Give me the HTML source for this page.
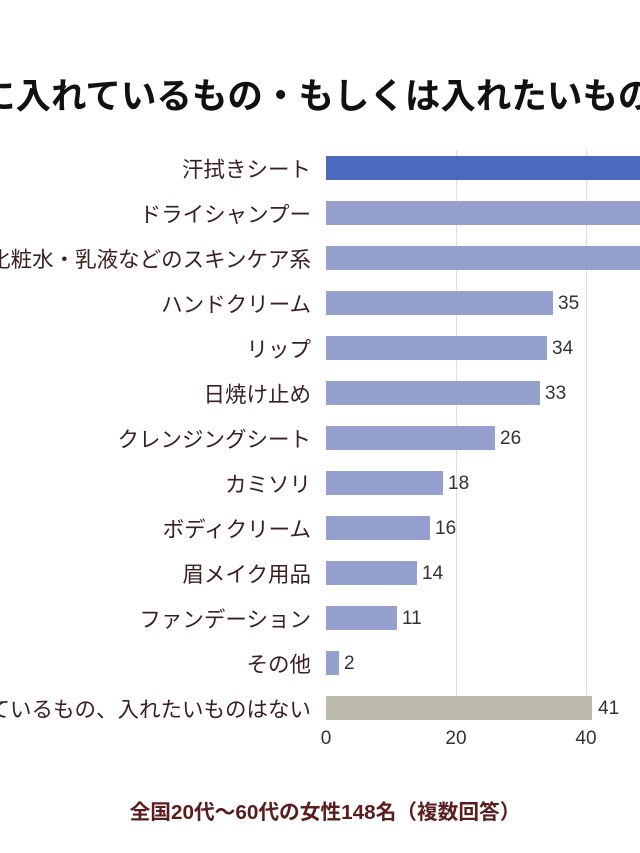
<!DOCTYPE html>
<html><head><meta charset="utf-8"><style>
html,body{margin:0;width:640px;height:853px;overflow:hidden;}
body{background:#fff;position:relative;font-family:"Liberation Sans","Noto Sans CJK JP",sans-serif;}
.t{position:absolute;left:-20px;top:75px;font-size:35.5px;font-weight:bold;color:#111;white-space:nowrap;line-height:42px;}
.lab{position:absolute;right:329px;font-size:21.5px;color:#3b2020;white-space:nowrap;line-height:26px;}
.bar{position:absolute;left:326px;height:24px;background:#95a0cf;}
.v{position:absolute;font-size:19px;color:#333;line-height:24px;}
.g{position:absolute;top:150px;height:570px;width:1px;background:#dedede;}
.ax{position:absolute;top:728px;font-size:19px;color:#333;transform:translateX(-50%);}
.f{position:absolute;left:0;width:650px;text-align:center;top:795px;font-size:20.7px;font-weight:bold;color:#5a1c1c;}
.clip{position:absolute;left:0;top:0;width:640px;height:853px;overflow:hidden;}
</style></head><body><div class="clip">
<div class="t">に入れているもの・もしくは入れたいもの</div>
<div class="g" style="left:456px"></div>
<div class="g" style="left:586px"></div>

<div class="lab" style="top:157px">汗拭きシート</div><div class="bar" style="top:156px;width:314px;background:#4a6abd"></div>
<div class="lab" style="top:202px">ドライシャンプー</div><div class="bar" style="top:201px;width:314px"></div>
<div class="lab" style="top:247px">化粧水・乳液などのスキンケア系</div><div class="bar" style="top:246px;width:314px"></div>
<div class="lab" style="top:292px">ハンドクリーム</div><div class="bar" style="top:291px;width:227px"></div><div class="v" style="top:292px;left:558px">35</div>
<div class="lab" style="top:337px">リップ</div><div class="bar" style="top:336px;width:221px"></div><div class="v" style="top:337px;left:552px">34</div>
<div class="lab" style="top:382px">日焼け止め</div><div class="bar" style="top:381px;width:214px"></div><div class="v" style="top:382px;left:545px">33</div>
<div class="lab" style="top:427px">クレンジングシート</div><div class="bar" style="top:426px;width:169px"></div><div class="v" style="top:427px;left:500px">26</div>
<div class="lab" style="top:472px">カミソリ</div><div class="bar" style="top:471px;width:117px"></div><div class="v" style="top:472px;left:448px">18</div>
<div class="lab" style="top:517px">ボディクリーム</div><div class="bar" style="top:516px;width:104px"></div><div class="v" style="top:517px;left:435px">16</div>
<div class="lab" style="top:562px">眉メイク用品</div><div class="bar" style="top:561px;width:91px"></div><div class="v" style="top:562px;left:422px">14</div>
<div class="lab" style="top:607px">ファンデーション</div><div class="bar" style="top:606px;width:71px"></div><div class="v" style="top:607px;left:402px">11</div>
<div class="lab" style="top:652px">その他</div><div class="bar" style="top:651px;width:13px"></div><div class="v" style="top:652px;left:344px">2</div>
<div class="lab" style="top:697px">入れているもの、入れたいものはない</div><div class="bar" style="top:696px;width:266px;background:#bcbaaa"></div><div class="v" style="top:697px;left:598px">41</div>

<div class="ax" style="left:326px">0</div>
<div class="ax" style="left:456px">20</div>
<div class="ax" style="left:586px">40</div>
<div class="f">全国20代〜60代の女性148名（複数回答）</div>
</div></body></html>
